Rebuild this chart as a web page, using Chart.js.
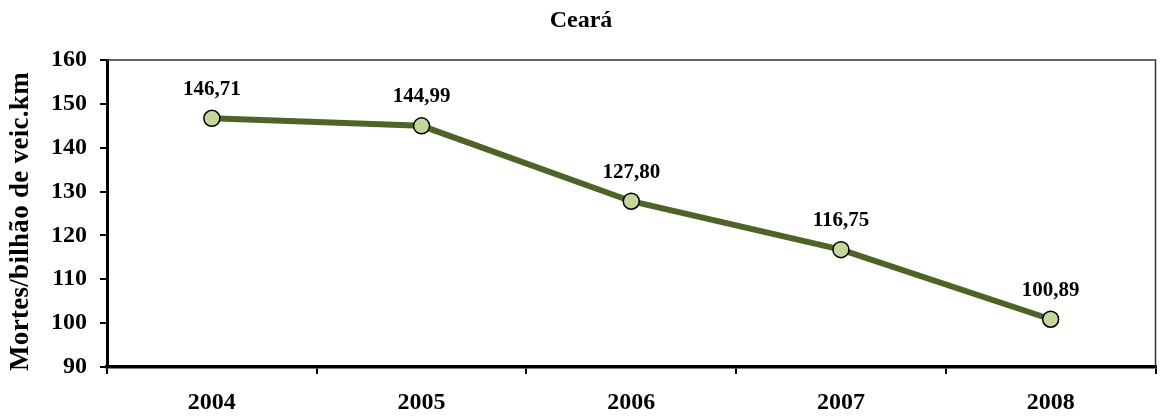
<!DOCTYPE html>
<html lang="pt">
<head>
<meta charset="utf-8">
<title>Ceará</title>
<script src="https://cdn.jsdelivr.net/npm/chart.js@4"></script>
<style>
  html, body { margin: 0; padding: 0; background: #ffffff; }
  #wrap { width: 1165px; height: 418px; position: relative; }
</style>
</head>
<body>
<div id="wrap"><canvas id="chart"></canvas></div>
<script>
// Mortes por bilhão de veículos.km no Ceará
const years = ['2004', '2005', '2006', '2007', '2008'];
const deathsPerBillionVehKm = [146.71, 144.99, 127.80, 116.75, 100.89];
const yTicks = [90, 100, 110, 120, 130, 140, 150, 160];

const chartTitle = 'Ceará';
const yAxisTitle = 'Mortes/bilhão de veic.km';

const SERIF = '"Liberation Serif", "Times New Roman", serif';

// Value labels above each point, formatted with a decimal comma
const pointLabels = {
  id: 'pointLabels',
  afterDatasetsDraw(chart) {
    const ctx = chart.ctx;
    const meta = chart.getDatasetMeta(0);
    const values = chart.data.datasets[0].data;
    ctx.save();
    ctx.font = 'bold 21px ' + SERIF;
    ctx.fillStyle = '#000000';
    ctx.textAlign = 'center';
    ctx.textBaseline = 'middle';
    meta.data.forEach((pt, i) => {
      const txt = values[i].toFixed(2).replace('.', ',');
      ctx.fillText(txt, pt.x, pt.y - 29);
    });
    ctx.restore();
  }
};

// Thin frame on the top and right sides of the plot area
const plotFrame = {
  id: 'plotFrame',
  beforeDatasetsDraw(chart) {
    const { ctx, chartArea: a } = chart;
    ctx.save();
    ctx.strokeStyle = '#333333';
    ctx.lineWidth = 1.5;
    ctx.beginPath();
    ctx.moveTo(a.left, a.top);
    ctx.lineTo(a.right, a.top);
    ctx.lineTo(a.right, a.bottom);
    ctx.stroke();
    ctx.restore();
  }
};

// Vertical axis title, sitting a little below the plot centre
const yTitle = {
  id: 'yTitle',
  afterDraw(chart) {
    const { ctx, chartArea: a } = chart;
    ctx.save();
    ctx.font = 'bold 27px ' + SERIF;
    ctx.fillStyle = '#000000';
    ctx.textAlign = 'center';
    ctx.textBaseline = 'middle';
    if ('letterSpacing' in ctx) ctx.letterSpacing = '0.3px';
    ctx.translate(21, (a.top + a.bottom) / 2 + 8);
    ctx.rotate(-Math.PI / 2);
    ctx.fillText(yAxisTitle, 0, 0);
    ctx.restore();
  }
};

new Chart(document.getElementById('chart'), {
  type: 'line',
  data: {
    labels: years,
    datasets: [{
      data: deathsPerBillionVehKm,
      borderColor: '#4F6228',
      borderWidth: 6,
      tension: 0,
      pointRadius: 8,
      pointHoverRadius: 8,
      pointBackgroundColor: '#C3D69B',
      pointBorderColor: '#000000',
      pointBorderWidth: 1.5
    }]
  },
  options: {
    responsive: true,
    maintainAspectRatio: false,
    devicePixelRatio: 1,
    animation: false,
    events: [],
    layout: { padding: { top: 0, right: 3, bottom: 0, left: 0 } },
    plugins: {
      legend: { display: false },
      tooltip: { enabled: false },
      title: {
        display: true,
        text: chartTitle,
        color: '#000000',
        font: { family: SERIF, size: 24, weight: 'bold', lineHeight: 1.2 },
        padding: { top: 6.6, bottom: 24.6 }
      }
    },
    scales: {
      x: {
        type: 'category',
        offset: true,
        grid: {
          offset: true,
          drawOnChartArea: false,
          drawTicks: true,
          tickLength: 7,
          color: '#000000',
          lineWidth: 2
        },
        border: { display: true, color: '#000000', width: 3.5 },
        ticks: {
          color: '#000000',
          padding: 14.6,
          maxRotation: 0,
          font: { family: SERIF, size: 24, weight: 'bold', lineHeight: 1.2 }
        },
        afterFit(scale) { scale.height = 51; }
      },
      y: {
        min: 90,
        max: 160,
        afterBuildTicks(scale) { scale.ticks = yTicks.map(v => ({ value: v })); },
        grid: {
          drawOnChartArea: false,
          drawTicks: true,
          tickLength: 7,
          color: '#000000',
          lineWidth: 2
        },
        border: { display: true, color: '#000000', width: 3 },
        ticks: {
          color: '#000000',
          padding: 13,
          font: { family: SERIF, size: 24, weight: 'bold', lineHeight: 1.2 }
        },
        title: { display: false, text: yAxisTitle },
        afterFit(scale) { scale.width = 107; }
      }
    }
  },
  plugins: [pointLabels, plotFrame, yTitle]
});
</script>
</body>
</html>
